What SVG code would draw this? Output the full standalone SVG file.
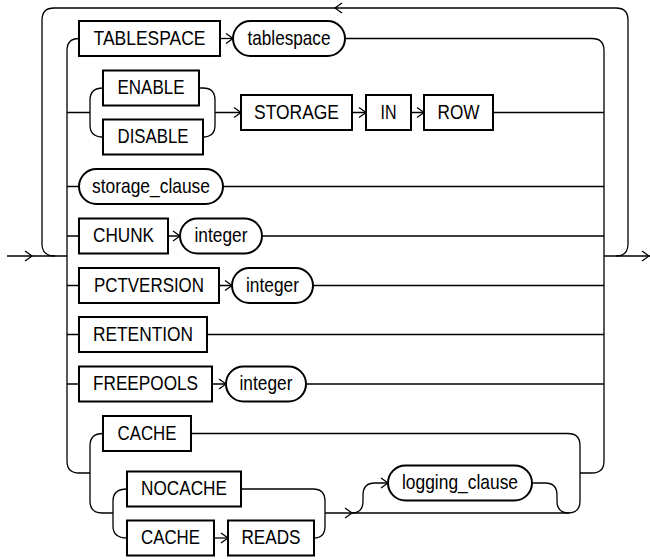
<svg xmlns="http://www.w3.org/2000/svg" xmlns:xlink="http://www.w3.org/1999/xlink" width="650" height="560" viewBox="0 0 650 560">
<style>
.ln{fill:none;stroke:#000;stroke-width:1.3}
.bx{fill:#fff;stroke:#000;stroke-width:2}
.tx{font-family:"Liberation Sans",Arial,sans-serif;font-size:21px;fill:#000;text-anchor:middle}
</style>
<defs>
<path id="ah" d="M-7,-5 L0,0 L-7,5" fill="none" stroke="#000" stroke-width="1.3"/>
</defs>
<rect width="650" height="560" fill="#fff"/>
<g id="connectors">
<path class="ln" d="M7,256 H67"/>
<path class="ln" d="M55,256 Q42,256 42,244 V20 Q42,8 54,8 H616 Q628,8 628,20 V244 Q628,256 616,256"/>
<path class="ln" d="M604,256 H650"/>
<path class="ln" d="M79,38.5 Q67,38.5 67,50.5 V461 Q67,473 79,473 H90"/>
<path class="ln" d="M67,112.5 H90 M67,186.5 H79 M67,236 H79 M67,285.5 H79 M67,334.5 H79 M67,384 H79"/>
<path class="ln" d="M103,88 Q90,88 90,100 V125 Q90,137 103,137"/>
<path class="ln" d="M199,88 H203 Q215,88 215,100 V125 Q215,137 203,137 M215,112.5 H241"/>
<path class="ln" d="M352,112.5 H366 M411,112.5 H424 M493,112.5 H604"/>
<path class="ln" d="M345,38.5 H592 Q604,38.5 604,50.5 V461 Q604,473 592,473 H580"/>
<path class="ln" d="M220,38.5 H233"/>
<path class="ln" d="M223,186.5 H604 M168,236 H180 M262,236 H604 M219,285.5 H232 M313,285.5 H604 M207,334.5 H604 M212,384 H226 M306,384 H604"/>
<path class="ln" d="M103,433.5 Q90,433.5 90,445.5 V501 Q90,513 102,513 H113"/>
<path class="ln" d="M127,489 Q113,489 113,501 V526 Q113,538 127,538"/>
<path class="ln" d="M241,489 H313 Q325,489 325,501 V526 Q325,538 314,538"/>
<path class="ln" d="M214,538 H228"/>
<path class="ln" d="M325,513 H568 Q580,513 580,501 V445.5 Q580,433.5 568,433.5 H191"/>
<path class="ln" d="M352,513 Q363,513 363,501 V495 Q363,483 375,483 H388"/>
<path class="ln" d="M532,483 H545 Q557,483 557,495 V501 Q557,513 569,513"/>
<use xlink:href="#ah" transform="translate(32,256)"/>
<use xlink:href="#ah" transform="translate(335,8) rotate(180)"/>
<use xlink:href="#ah" transform="translate(649,256)"/>
<use xlink:href="#ah" transform="translate(233,38.5)"/>
<use xlink:href="#ah" transform="translate(241,112.5)"/>
<use xlink:href="#ah" transform="translate(366,112.5)"/>
<use xlink:href="#ah" transform="translate(424,112.5)"/>
<use xlink:href="#ah" transform="translate(180,236)"/>
<use xlink:href="#ah" transform="translate(232,285.5)"/>
<use xlink:href="#ah" transform="translate(226,384)"/>
<use xlink:href="#ah" transform="translate(228,538)"/>
<use xlink:href="#ah" transform="translate(352,513)"/>
<use xlink:href="#ah" transform="translate(388,483)"/>
</g>
<g id="n_tablespace_kw"><rect class="bx" x="79" y="21" width="141" height="35"/><text class="tx" x="149.5" y="44.5" textLength="112" lengthAdjust="spacingAndGlyphs">TABLESPACE</text></g>
<g id="n_tablespace"><rect class="bx" x="233" y="21" width="112" height="35" rx="17.5"/><text class="tx" x="289" y="44.5" textLength="83" lengthAdjust="spacingAndGlyphs">tablespace</text></g>
<g id="n_enable"><rect class="bx" x="103" y="70.5" width="96" height="35"/><text class="tx" x="151" y="94" textLength="67" lengthAdjust="spacingAndGlyphs">ENABLE</text></g>
<g id="n_disable"><rect class="bx" x="103" y="119.5" width="100" height="35"/><text class="tx" x="153" y="143" textLength="71" lengthAdjust="spacingAndGlyphs">DISABLE</text></g>
<g id="n_storage"><rect class="bx" x="241" y="95" width="111" height="35"/><text class="tx" x="296.5" y="118.5" textLength="85" lengthAdjust="spacingAndGlyphs">STORAGE</text></g>
<g id="n_in"><rect class="bx" x="366" y="95" width="45" height="35"/><text class="tx" x="388.5" y="118.5" textLength="16" lengthAdjust="spacingAndGlyphs">IN</text></g>
<g id="n_row"><rect class="bx" x="424" y="95" width="69" height="35"/><text class="tx" x="458.5" y="118.5" textLength="42" lengthAdjust="spacingAndGlyphs">ROW</text></g>
<g id="n_storage_clause"><rect class="bx" x="79" y="169" width="144" height="35" rx="17.5"/><text class="tx" x="151" y="192.5" textLength="118" lengthAdjust="spacingAndGlyphs">storage_clause</text></g>
<g id="n_chunk"><rect class="bx" x="79" y="218.5" width="89" height="35"/><text class="tx" x="123.5" y="242" textLength="61" lengthAdjust="spacingAndGlyphs">CHUNK</text></g>
<g id="n_integer1"><rect class="bx" x="180" y="218.5" width="82" height="35" rx="17.5"/><text class="tx" x="221" y="242" textLength="53" lengthAdjust="spacingAndGlyphs">integer</text></g>
<g id="n_pctversion"><rect class="bx" x="79" y="268" width="140" height="35"/><text class="tx" x="149" y="291.5" textLength="110" lengthAdjust="spacingAndGlyphs">PCTVERSION</text></g>
<g id="n_integer2"><rect class="bx" x="232" y="268" width="81" height="35" rx="17.5"/><text class="tx" x="272.5" y="291.5" textLength="53" lengthAdjust="spacingAndGlyphs">integer</text></g>
<g id="n_retention"><rect class="bx" x="79" y="317" width="128" height="35"/><text class="tx" x="143" y="340.5" textLength="100" lengthAdjust="spacingAndGlyphs">RETENTION</text></g>
<g id="n_freepools"><rect class="bx" x="79" y="366.5" width="133" height="35"/><text class="tx" x="145.5" y="390" textLength="105" lengthAdjust="spacingAndGlyphs">FREEPOOLS</text></g>
<g id="n_integer3"><rect class="bx" x="226" y="366.5" width="80" height="35" rx="17.5"/><text class="tx" x="266" y="390" textLength="53" lengthAdjust="spacingAndGlyphs">integer</text></g>
<g id="n_cache1"><rect class="bx" x="103" y="416" width="88" height="35"/><text class="tx" x="147" y="439.5" textLength="59" lengthAdjust="spacingAndGlyphs">CACHE</text></g>
<g id="n_nocache"><rect class="bx" x="127" y="471.5" width="114" height="35"/><text class="tx" x="184" y="495" textLength="86" lengthAdjust="spacingAndGlyphs">NOCACHE</text></g>
<g id="n_cache2"><rect class="bx" x="127" y="520.5" width="87" height="35"/><text class="tx" x="170.5" y="544" textLength="59" lengthAdjust="spacingAndGlyphs">CACHE</text></g>
<g id="n_reads"><rect class="bx" x="228" y="520.5" width="86" height="35"/><text class="tx" x="271" y="544" textLength="59" lengthAdjust="spacingAndGlyphs">READS</text></g>
<g id="n_logging_clause"><rect class="bx" x="388" y="465.5" width="144" height="35" rx="17.5"/><text class="tx" x="460" y="489" textLength="116" lengthAdjust="spacingAndGlyphs">logging_clause</text></g>
</svg>
